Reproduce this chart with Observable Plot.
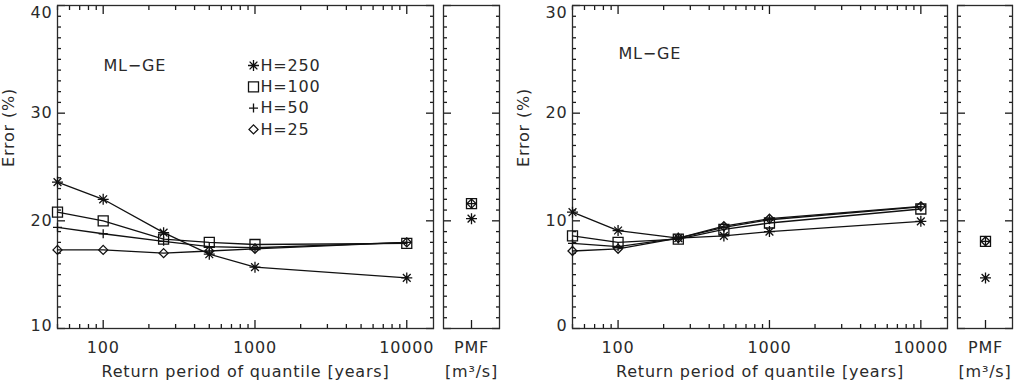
<!DOCTYPE html>
<html><head><meta charset="utf-8">
<script src="https://cdn.jsdelivr.net/npm/d3@7"></script>
<script src="https://cdn.jsdelivr.net/npm/@observablehq/plot@0.6"></script>
<style>
body{margin:0;background:#fff;}
#wrap{position:relative;width:1021px;height:388px;overflow:hidden;background:#fff;}
#wrap > div{position:absolute;top:0;}
</style></head><body>
<div id="wrap"><div id="pA" style="left:0px"></div><div id="pB" style="left:438px"></div><div id="pC" style="left:508px"></div><div id="pD" style="left:952px"></div></div>
<script>
// ---- data ----
const periods = [50, 100, 250, 500, 1000, 10000];
const series = ["H=250", "H=100", "H=50", "H=25"];
// left panel: Error (%)
const leftH250 = [23.6, 22.0, 18.9, 16.9, 15.7, 14.7];
const leftH100 = [20.8, 20.0, 18.3, 18.0, 17.8, 17.9];
const leftH50  = [19.4, 18.8, 18.1, 17.6, 17.5, 18.0];
const leftH25  = [17.3, 17.3, 17.0, 17.2, 17.4, 18.0];
const leftPMF  = [20.2, 21.6, 21.6, 21.6];
// right panel: Error (%)
const rightH250 = [10.8, 9.1, 8.4, 8.6, 9.0, 9.95];
const rightH100 = [8.6, 8.0, 8.3, 9.2, 9.8, 11.1];
const rightH50  = [7.9, 7.6, 8.4, 9.4, 10.1, 11.3];
const rightH25  = [7.2, 7.4, 8.4, 9.5, 10.2, 11.35];
const rightPMF  = [4.7, 8.1, 8.1, 8.1];
// ticks
const xMajorTicks = [100, 1000, 10000];
const xMinorTicks = [50, 60, 70, 80, 90, 200, 300, 400, 500, 600, 700, 800, 900, 2000, 3000, 4000, 5000, 6000, 7000, 8000, 9000];
const leftYTicks = [10, 20, 30, 40];
const leftYMinor = [11,12,13,14,15,16,17,18,19,21,22,23,24,25,26,27,28,29,31,32,33,34,35,36,37,38,39];
const rightYTicks = [0, 10, 20, 30];
const rightYMinor = [1,2,3,4,5,6,7,8,9,11,12,13,14,15,16,17,18,19,21,22,23,24,25,26,27,28,29];
const pmfCategory = ["PMF"];

// ---- symbols (IDL-like) ----
const rad = s => Math.sqrt(s / Math.PI);
const symAsterisk = {draw(c, s) { const r = rad(s), d = r * Math.SQRT1_2;
  c.moveTo(-r, 0); c.lineTo(r, 0); c.moveTo(0, -r); c.lineTo(0, r);
  c.moveTo(-d, -d); c.lineTo(d, d); c.moveTo(-d, d); c.lineTo(d, -d); }};
const symSquare = {draw(c, s) { const r = rad(s); c.moveTo(-r, -r); c.lineTo(r, -r); c.lineTo(r, r); c.lineTo(-r, r); c.closePath(); }};
const symPlus = {draw(c, s) { const r = rad(s); c.moveTo(-r, 0); c.lineTo(r, 0); c.moveTo(0, -r); c.lineTo(0, r); }};
const symDiamond = {draw(c, s) { const r = rad(s); c.moveTo(0, -r); c.lineTo(r, 0); c.lineTo(0, r); c.lineTo(-r, 0); c.closePath(); }};
const symbols = [symAsterisk, symSquare, symPlus, symDiamond];
const symR = [5.5, 5, 4.5, 4.5];

const INK = "#2a2a2a";
const style = {fontFamily: "'DejaVu Sans', sans-serif", fontSize: "16px", letterSpacing: "0.8px", overflow: "visible", maxWidth: "none", background: "transparent", color: INK};
const MAJ = 8, MIN = 4;
const H = 388, MT = 5, MB = 60;

// inward frame ticks drawn by the library's axes (ticks only, no labels)
function yFrameTicks(major, minor) {
  const o = {fill: "none", label: null, stroke: "#1a1a1a", strokeWidth: 1.3};
  return [
    Plot.axisY({...o, ticks: major, anchor: "left", tickSize: -MAJ}),
    Plot.axisY({...o, ticks: major, anchor: "right", tickSize: -MAJ}),
    Plot.axisY({...o, ticks: minor, anchor: "left", tickSize: -MIN}),
    Plot.axisY({...o, ticks: minor, anchor: "right", tickSize: -MIN})
  ];
}
function xFrameTicks(major, minor) {
  const o = {fill: "none", label: null, stroke: "#1a1a1a", strokeWidth: 1.3};
  return [
    Plot.axisX({...o, ticks: major, anchor: "bottom", tickSize: -MAJ}),
    Plot.axisX({...o, ticks: major, anchor: "top", tickSize: -MAJ}),
    Plot.axisX({...o, ticks: minor, anchor: "bottom", tickSize: -MIN}),
    Plot.axisX({...o, ticks: minor, anchor: "top", tickSize: -MIN})
  ];
}

function mainPanel(el, vals, yDomain, yTicks, yMinor, mlDy, withLegend, W, ML) {
  const rows = [];
  series.forEach((s, i) => periods.forEach((p, j) => rows.push({period: p, err: vals[i][j], series: s})));
  const marks = [
    ...yFrameTicks(yTicks, yMinor),
    ...xFrameTicks(xMajorTicks, xMinorTicks),
    Plot.frame({stroke: INK, strokeWidth: 1.3}),
    Plot.axisX({ticks: xMajorTicks, anchor: "bottom", tickSize: 0, tickPadding: 13, tickFormat: d => String(d), label: null, fill: INK}),
    Plot.axisY({ticks: yTicks.slice(1, -1), anchor: "left", tickSize: 0, tickPadding: 5, label: null, fill: INK}),
    Plot.axisY({ticks: yTicks.slice(-1), anchor: "left", tickSize: 0, tickPadding: 5, label: null, fill: INK, dy: 7}),
    Plot.axisY({ticks: yTicks.slice(0, 1), anchor: "left", tickSize: 0, tickPadding: 5, label: null, fill: INK, dy: -3}),
    Plot.text(["Return period of quantile [years]"], {frameAnchor: "bottom", dy: 43, lineAnchor: "middle", fill: INK}),
    Plot.text(["Error (%)"], {frameAnchor: "left", rotate: -90, dx: -49, lineAnchor: "middle", fill: INK}),
    Plot.text(["ML\u2212GE"], {frameAnchor: "top-left", dx: 46, dy: mlDy, textAnchor: "start", lineAnchor: "middle", fill: INK})
  ];
  series.forEach((s, i) => {
    const d = rows.filter(r => r.series === s);
    marks.push(Plot.line(d, {x: "period", y: "err", stroke: "#111", strokeWidth: 1.3}));
    marks.push(Plot.dot(d, {x: "period", y: "err", symbol: symbols[i], r: symR[i], stroke: "#111", fill: "none", strokeWidth: 1.3}));
    if (withLegend) {
      marks.push(Plot.dot([s], {frameAnchor: "top-left", dx: 196, dy: 60 + i * 21.3, symbol: symbols[i], r: symR[i], stroke: "#111", fill: "none", strokeWidth: 1.3}));
      marks.push(Plot.text([s], {frameAnchor: "top-left", dx: 203, dy: 60 + i * 21.3, textAnchor: "start", lineAnchor: "middle", fill: INK}));
    }
  });
  el.append(Plot.plot({
    width: W, height: H, marginLeft: ML, marginRight: 5, marginTop: MT, marginBottom: MB,
    x: {type: "log", domain: [50, 15000]},
    y: {domain: yDomain},
    style, marks
  }));
}

function pmfPanel(el, vals, yDomain, yTicks, yMinor, W) {
  const rows = series.map((s, i) => ({cat: pmfCategory[0], err: vals[i], series: s}));
  const marks = [
    ...yFrameTicks(yTicks, yMinor),
    Plot.axisX({ticks: pmfCategory, anchor: "bottom", tickSize: -MAJ, fill: "none", label: null, stroke: "#1a1a1a", strokeWidth: 1.3}),
    Plot.frame({stroke: INK, strokeWidth: 1.3}),
    Plot.axisX({anchor: "bottom", tickSize: 0, tickPadding: 13, label: null, fill: INK}),
    Plot.text(["[m\u00b3/s]"], {frameAnchor: "bottom", dy: 43, lineAnchor: "middle", fill: INK})
  ];
  series.forEach((s, i) => {
    marks.push(Plot.dot(rows.filter(r => r.series === s), {x: "cat", y: "err", symbol: symbols[i], r: symR[i], stroke: "#111", fill: "none", strokeWidth: 1.3}));
  });
  el.append(Plot.plot({
    width: W, height: H, marginLeft: 5, marginRight: 9, marginTop: MT, marginBottom: MB,
    x: {type: "point", domain: pmfCategory},
    y: {domain: yDomain},
    style, marks
  }));
}

mainPanel(document.getElementById("pA"), [leftH250, leftH100, leftH50, leftH25], [10, 40], leftYTicks, leftYMinor, 60, true, 438, 57);
pmfPanel(document.getElementById("pB"), leftPMF, [10, 40], leftYTicks, leftYMinor, 70);
mainPanel(document.getElementById("pC"), [rightH250, rightH100, rightH50, rightH25], [0, 30], rightYTicks, rightYMinor, 48, false, 444, 64);
pmfPanel(document.getElementById("pD"), rightPMF, [0, 30], rightYTicks, rightYMinor, 69);
</script>
</body></html>
